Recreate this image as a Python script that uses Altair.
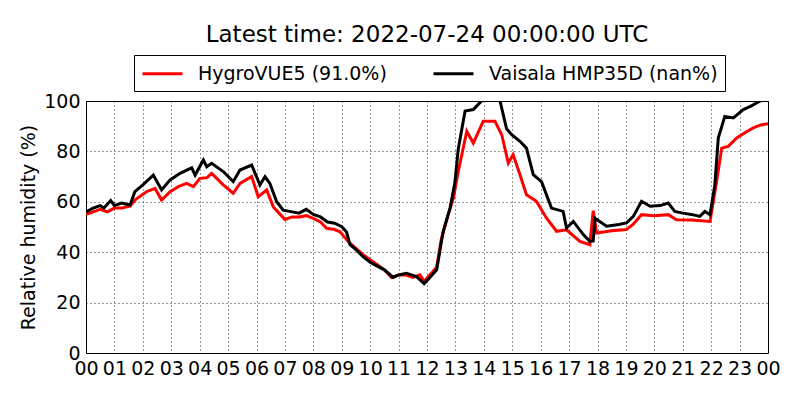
import altair as alt
import pandas as pd

# HygroVUE5 relative humidity (%) vs hour of day
hygro_hours = [0, 0.25, 0.5, 0.75, 1, 1.25, 1.55, 1.75, 2.13, 2.43, 2.66, 2.96, 3.25, 3.54, 3.78,
               4.01, 4.25, 4.42, 4.83, 5.18, 5.42, 5.83, 6.06, 6.36, 6.59, 7.0, 7.25, 7.5, 7.75,
               8.0, 8.25, 8.47, 8.75, 8.94, 9.25, 9.5, 9.75, 10, 10.25, 10.5, 10.75, 11, 11.25,
               11.5, 11.75, 11.9, 12.1, 12.34, 12.5, 12.75, 12.93, 13.1, 13.4, 13.63, 13.98,
               14.39, 14.63, 14.86, 15.03, 15.27, 15.5, 15.85, 16.2, 16.56, 16.91, 17.38, 17.73,
               17.85, 17.97, 18.5, 19.02, 19.25, 19.55, 20.0, 20.49, 20.78, 21.3, 21.96, 22.19,
               22.37, 22.6, 22.9, 23.2, 23.48, 23.75, 24]
hygro_rh = [55, 56, 57, 56, 57.5, 57.5, 58.3, 61, 64, 65.3, 60.7, 64, 66, 67.3, 66,
            69.3, 69.5, 71.3, 66.7, 63.4, 67.3, 70, 62, 64.7, 58, 53, 54, 54, 54.5,
            53.4, 52, 49.5, 49, 48.1, 44, 41.5, 39, 37, 35, 33, 30, 31, 31,
            30, 31, 28.5, 31, 34, 45, 55, 61.5, 72, 88, 83.3, 92,
            92, 86.6, 75.4, 78.7, 70.8, 62.8, 60.2, 53.6, 48.3, 48.9, 44.3, 43,
            56.5, 47.6, 48.5, 49, 51, 54.9, 54.5, 54.9, 52.9, 52.8, 52.2, 68,
            81.3, 82, 85.3, 87.5, 89.3, 90.5, 91]

# Vaisala HMP35D relative humidity (%) vs hour of day
vaisala_hours = [0, 0.25, 0.5, 0.63, 0.87, 1, 1.25, 1.55, 1.72, 2, 2.37, 2.66, 2.96, 3.31, 3.72,
                 3.84, 4.13, 4.25, 4.42, 4.83, 5.18, 5.42, 5.83, 6.12, 6.3, 6.47, 6.71, 6.94,
                 7.25, 7.5, 7.75, 8, 8.25, 8.5, 8.75, 9, 9.17, 9.29, 9.5, 9.75, 10, 10.25, 10.5,
                 10.81, 11, 11.28, 11.63, 11.9, 12.1, 12.34, 12.57, 12.81, 12.98, 13.1, 13.34,
                 13.63, 13.92, 14.2, 14.57, 14.8, 14.98, 15.27, 15.5, 15.74, 16.03, 16.38, 16.79,
                 16.91, 17.15, 17.5, 17.73, 17.85, 17.91, 18.32, 18.75, 19.02, 19.26, 19.55,
                 19.85, 20.2, 20.49, 20.72, 21, 21.3, 21.6, 21.78, 21.96, 22.13, 22.25, 22.48,
                 22.78, 23.13, 23.4, 23.72, 24]
vaisala_rh = [56, 57.5, 58.5, 57.5, 60.5, 58.5, 59.5, 58.7, 64, 66.7, 70.6, 64.7, 68.7, 71.3, 73.5,
              70.6, 76.6, 73.9, 75.3, 72, 68, 72.6, 74.6, 66.7, 70, 67.3, 60, 56.7,
              56, 55.5, 57, 55, 54, 52, 51.5, 50.1, 48, 43, 41, 38.2, 36, 34.5, 33,
              30, 31, 31.6, 30.3, 27.5, 30, 33, 48.3, 57.5, 67.5, 81, 96,
              96.6, 100, 103, 100, 89, 86.6, 84, 81.3, 70.8, 68, 57.5, 56.2,
              49.6, 52.2, 47, 44.3, 44.5, 53.5, 50.3, 51, 51.6, 54.2, 60.2,
              58.2, 58.5, 59.5, 56.2, 55.5, 55, 54.2, 56.2, 54.9, 66.8, 85.3, 93.9,
              93.3, 96.6, 98, 100, 101]

series_names = ["HygroVUE5 (91.0%)", "Vaisala HMP35D (nan%)"]
series_colors = ["#ff0000", "#000000"]
x_ticks = list(range(0, 25))
y_ticks = [0, 20, 40, 60, 80, 100]
title_text = "Latest time: 2022-07-24 00:00:00 UTC"

df_h = pd.DataFrame({"hour": hygro_hours, "rh": hygro_rh, "series": series_names[0]})
df_v = pd.DataFrame({"hour": vaisala_hours, "rh": vaisala_rh, "series": series_names[1]})

FONT = "DejaVu Sans"

x_enc = alt.X(
    "hour:Q",
    scale=alt.Scale(domain=[0, 24], nice=False, zero=False),
    axis=alt.Axis(
        values=x_ticks,
        labelExpr="datum.value == 24 ? '00' : (datum.value < 10 ? '0' + datum.value : '' + datum.value)",
        title=None,
        labelOverlap=False,
        labelFlush=False,
    ),
)
y_enc = alt.Y(
    "rh:Q",
    scale=alt.Scale(domain=[0, 100], nice=False),
    axis=alt.Axis(values=y_ticks, title="Relative humidity (%)", titlePadding=5),
)
color_enc = alt.Color(
    "series:N",
    scale=alt.Scale(domain=series_names, range=series_colors),
    legend=alt.Legend(
        title=None,
        orient="none",
        legendX=48,
        legendY=-46,
        direction="horizontal",
        strokeColor="black",
        fillColor="white",
        padding=7,
        symbolType="M-1,0H3",
        symbolSize=400,
        symbolStrokeWidth=3,
        labelFontSize=19,
        labelFont=FONT,
        labelColor="black",
        labelOffset=34,
        labelLimit=400,
        columnPadding=40,
        cornerRadius=0,
    ),
)


def line(df):
    return alt.Chart(df).mark_line(clip=True, strokeWidth=3).encode(
        x=x_enc, y=y_enc, color=color_enc
    )


chart = (
    alt.layer(line(df_h), line(df_v))
    .properties(
        width=682,
        height=252,
        title=alt.TitleParams(
            text=title_text,
            font=FONT,
            fontSize=23,
            fontWeight="normal",
            color="black",
            anchor="middle",
            frame="group",
            offset=8,
        ),
        autosize=alt.AutoSizeParams(type="none"),
        padding={"left": 78, "top": 93, "right": 24, "bottom": 39},
    )
    .configure_view(stroke="black", strokeWidth=1)
    .configure_axis(
        labelFont=FONT,
        labelFontSize=19,
        labelColor="black",
        titleFont=FONT,
        titleFontSize=19,
        titleFontWeight="normal",
        titleColor="black",
        grid=True,
        gridColor="black",
        gridDash=[1, 3],
        gridWidth=0.8,
        gridOpacity=1,
        ticks=False,
        domain=False,
        labelPadding=6,
    )
)

chart.save("out.html", embed_options={"renderer": "svg", "actions": False})
